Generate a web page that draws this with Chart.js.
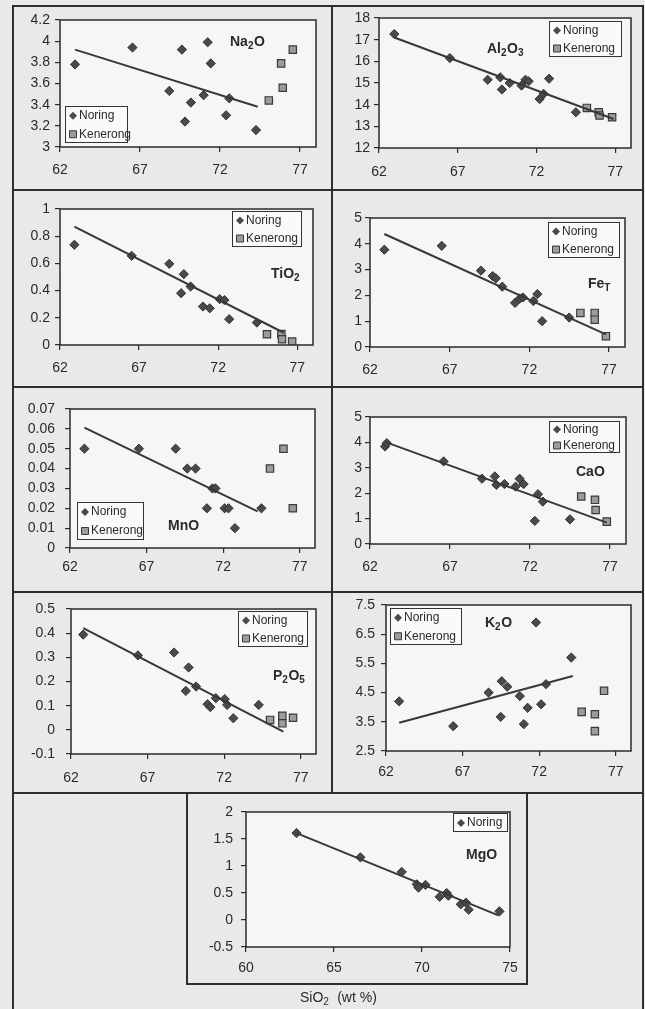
<!DOCTYPE html>
<html>
<head>
<meta charset="utf-8">
<script src="https://cdn.jsdelivr.net/npm/chart.js@4.4.0/dist/chart.umd.min.js"></script>
<style>
  html, body { margin: 0; padding: 0; background: #e9e9e9; }
  body { width: 645px; height: 1009px; position: relative; overflow: hidden; }
  canvas { position: absolute; }
  .rule { position: absolute; background: #2e2e2e; z-index: 5; }
</style>
</head>
<body>
<script>
// ---- SiO2 axis ticks ----
const siTicks = [62, 67, 72, 77];
const siTicksMg = [60, 65, 70, 75];

// ---- Na2O ----
const na2oTicks = [3, 3.2, 3.4, 3.6, 3.8, 4, 4.2];
const na2oNoringSi = [62.94, 66.53, 68.83, 69.62, 69.81, 70.18, 70.98, 71.23, 71.42, 72.38, 72.58, 74.25];
const na2oNoring   = [3.78, 3.94, 3.53, 3.92, 3.24, 3.42, 3.49, 3.99, 3.79, 3.30, 3.46, 3.16];
const na2oKenerongSi = [75.05, 75.82, 75.92, 76.55];
const na2oKenerong   = [3.44, 3.79, 3.56, 3.92];
const na2oTrendSi = [62.94, 74.36];
const na2oTrend   = [3.92, 3.38];

// ---- Al2O3 ----
const al2o3Ticks = [12, 13, 14, 15, 16, 17, 18];
const al2o3NoringSi = [62.97, 66.5, 68.9, 69.7, 69.8, 70.3, 71.05, 71.3, 71.5, 72.2, 72.45, 72.8, 74.5];
const al2o3Noring   = [17.26, 16.15, 15.15, 15.26, 14.7, 15.0, 14.88, 15.15, 15.08, 14.26, 14.5, 15.2, 13.65];
const al2o3KenerongSi = [75.2, 75.95, 76.0, 76.8];
const al2o3Kenerong   = [13.85, 13.65, 13.5, 13.42];
const al2o3TrendSi = [62.97, 76.9];
const al2o3Trend   = [17.1, 13.34];

// ---- TiO2 ----
const tio2Ticks = [0, 0.2, 0.4, 0.6, 0.8, 1];
const tio2NoringSi = [62.91, 66.53, 68.91, 69.66, 69.83, 70.26, 71.04, 71.47, 72.1, 72.4, 72.7, 74.45];
const tio2Noring   = [0.737, 0.656, 0.597, 0.381, 0.521, 0.43, 0.283, 0.27, 0.337, 0.33, 0.19, 0.165];
const tio2KenerongSi = [75.09, 76.0, 76.04, 76.68];
const tio2Kenerong   = [0.079, 0.081, 0.042, 0.025];
const tio2TrendSi = [62.91, 76.15];
const tio2Trend   = [0.87, 0.09];

// ---- FeT ----
const feTicks = [0, 1, 2, 3, 4, 5];
const feNoringSi = [62.9, 66.5, 68.96, 69.7, 69.9, 70.3, 71.1, 71.4, 71.6, 72.25, 72.5, 72.8, 74.5];
const feNoring   = [3.77, 3.92, 2.96, 2.75, 2.66, 2.34, 1.71, 1.88, 1.92, 1.78, 2.05, 1.0, 1.14];
const feKenerongSi = [75.2, 76.1, 76.1, 76.8];
const feKenerong   = [1.32, 1.32, 1.06, 0.42];
const feTrendSi = [62.9, 76.8];
const feTrend   = [4.38, 0.49];

// ---- MnO ----
const mnoTicks = [0, 0.01, 0.02, 0.03, 0.04, 0.05, 0.06, 0.07];
const mnoNoringSi = [62.94, 66.5, 68.9, 69.66, 70.2, 70.94, 71.3, 71.5, 72.1, 72.35, 72.77, 74.5];
const mnoNoring   = [0.05, 0.05, 0.05, 0.04, 0.04, 0.02, 0.03, 0.03, 0.02, 0.02, 0.01, 0.02];
const mnoKenerongSi = [75.06, 75.94, 76.55];
const mnoKenerong   = [0.04, 0.05, 0.02];
const mnoTrendSi = [62.94, 74.25];
const mnoTrend   = [0.0606, 0.0184];

// ---- CaO ----
const caoTicks = [0, 1, 2, 3, 4, 5];
const caoNoringSi = [62.94, 63.05, 66.6, 69.0, 69.8, 69.9, 70.4, 71.1, 71.35, 71.6, 72.3, 72.5, 72.8, 74.5];
const caoNoring   = [3.84, 3.97, 3.25, 2.57, 2.66, 2.33, 2.36, 2.26, 2.57, 2.36, 0.91, 1.96, 1.67, 0.97];
const caoKenerongSi = [75.2, 76.06, 76.1, 76.8];
const caoKenerong   = [1.87, 1.74, 1.34, 0.88];
const caoTrendSi = [62.98, 76.8];
const caoTrend   = [4.01, 0.84];

// ---- P2O5 ----
const p2o5Ticks = [-0.1, 0, 0.1, 0.2, 0.3, 0.4, 0.5];
const p2o5NoringSi = [62.8, 66.37, 68.73, 69.5, 69.68, 70.17, 70.92, 71.1, 71.46, 72.04, 72.2, 72.6, 74.26];
const p2o5Noring   = [0.394, 0.308, 0.32, 0.161, 0.258, 0.179, 0.106, 0.094, 0.131, 0.127, 0.103, 0.048, 0.103];
const p2o5KenerongSi = [75.0, 75.8, 75.8, 76.5];
const p2o5Kenerong   = [0.041, 0.058, 0.027, 0.05];
const p2o5TrendSi = [62.8, 75.87];
const p2o5Trend   = [0.421, -0.007];

// ---- K2O ----
const k2oTicks = [2.5, 3.5, 4.5, 5.5, 6.5, 7.5];
const k2oNoringSi = [62.86, 66.39, 68.7, 69.49, 69.56, 69.92, 70.74, 71.0, 71.25, 71.8, 72.13, 72.45, 74.1];
const k2oNoring   = [4.2, 3.35, 4.5, 3.67, 4.89, 4.7, 4.38, 3.42, 3.98, 6.9, 4.1, 4.79, 5.7];
const k2oKenerongSi = [74.78, 75.64, 75.64, 76.24];
const k2oKenerong   = [3.84, 3.76, 3.18, 4.56];
const k2oTrendSi = [62.86, 74.2];
const k2oTrend   = [3.47, 5.07];

// ---- MgO ----
const mgoTicks = [-0.5, 0, 0.5, 1, 1.5, 2];
const mgoNoringSi = [62.87, 66.5, 68.85, 69.7, 69.8, 70.2, 71.0, 71.4, 71.5, 72.2, 72.5, 72.65, 74.4];
const mgoNoring   = [1.61, 1.16, 0.89, 0.66, 0.6, 0.65, 0.43, 0.5, 0.45, 0.29, 0.32, 0.19, 0.16];
const mgoTrendSi = [62.87, 74.34];
const mgoTrend   = [1.61, 0.087];

// ---- layout & styling ----
const SANS = '"Liberation Sans", Arial, Helvetica, sans-serif';
const INK = '#2a2a2a';
const NORING_FILL = '#4a4a4a';
const KENERONG_FILL = '#9c9c9c';

// plot: chart area rectangle on the page [left, top, right, bottom]
const panels = [
  { title: [['Na', 0], ['2', 1], ['O', 0]], titleAt: [230, 42],
    plot: [60, 20, 316, 147], xMin: 62, xMax: 78, xTicks: siTicks, yMin: 3, yMax: 4.2, yTicks: na2oTicks,
    yGap: 10, xGap: 23, legend: [65, 106, 63, 37],
    n: [na2oNoringSi, na2oNoring], k: [na2oKenerongSi, na2oKenerong], t: [na2oTrendSi, na2oTrend] },
  { title: [['Al', 0], ['2', 1], ['O', 0], ['3', 1]], titleAt: [487, 49],
    plot: [379, 18, 631, 148], xMin: 62, xMax: 78, xTicks: siTicks, yMin: 12, yMax: 18, yTicks: al2o3Ticks,
    yGap: 9, xGap: 24, legend: [549, 21, 73, 36],
    n: [al2o3NoringSi, al2o3Noring], k: [al2o3KenerongSi, al2o3Kenerong], t: [al2o3TrendSi, al2o3Trend] },
  { title: [['TiO', 0], ['2', 1]], titleAt: [271, 274],
    plot: [60, 209, 313, 345], xMin: 62, xMax: 78, xTicks: siTicks, yMin: 0, yMax: 1, yTicks: tio2Ticks,
    yGap: 10, xGap: 23, legend: [232, 211, 70, 36],
    n: [tio2NoringSi, tio2Noring], k: [tio2KenerongSi, tio2Kenerong], t: [tio2TrendSi, tio2Trend] },
  { title: [['Fe', 0], ['T', 1]], titleAt: [588, 284],
    plot: [370, 218, 625, 347], xMin: 62, xMax: 78, xTicks: siTicks, yMin: 0, yMax: 5, yTicks: feTicks,
    yGap: 8, xGap: 23, legend: [548, 222, 72, 36],
    n: [feNoringSi, feNoring], k: [feKenerongSi, feKenerong], t: [feTrendSi, feTrend] },
  { title: [['MnO', 0]], titleAt: [168, 526],
    plot: [70, 409, 315, 548], xMin: 62, xMax: 78, xTicks: siTicks, yMin: 0, yMax: 0.07, yTicks: mnoTicks,
    yGap: 15, xGap: 19, legend: [77, 502, 67, 38],
    n: [mnoNoringSi, mnoNoring], k: [mnoKenerongSi, mnoKenerong], t: [mnoTrendSi, mnoTrend] },
  { title: [['CaO', 0]], titleAt: [576, 472],
    plot: [370, 417, 626, 544], xMin: 62, xMax: 78, xTicks: siTicks, yMin: 0, yMax: 5, yTicks: caoTicks,
    yGap: 8, xGap: 23, legend: [549, 421, 71, 32],
    n: [caoNoringSi, caoNoring], k: [caoKenerongSi, caoKenerong], t: [caoTrendSi, caoTrend] },
  { title: [['P', 0], ['2', 1], ['O', 0], ['5', 1]], titleAt: [273, 676],
    plot: [71, 609, 316, 754], xMin: 62, xMax: 78, xTicks: siTicks, yMin: -0.1, yMax: 0.5, yTicks: p2o5Ticks,
    yGap: 16, xGap: 24, legend: [238, 611, 70, 36],
    n: [p2o5NoringSi, p2o5Noring], k: [p2o5KenerongSi, p2o5Kenerong], t: [p2o5TrendSi, p2o5Trend] },
  { title: [['K', 0], ['2', 1], ['O', 0]], titleAt: [485, 623],
    plot: [386, 605, 631, 751], xMin: 62, xMax: 78, xTicks: siTicks, yMin: 2.5, yMax: 7.5, yTicks: k2oTicks,
    yGap: 11, xGap: 21, legend: [390, 608, 72, 37],
    n: [k2oNoringSi, k2oNoring], k: [k2oKenerongSi, k2oKenerong], t: [k2oTrendSi, k2oTrend] },
  { title: [['MgO', 0]], titleAt: [466, 855],
    plot: [246, 812, 510, 947], xMin: 60, xMax: 75, xTicks: siTicksMg, yMin: -0.5, yMax: 2, yTicks: mgoTicks,
    yGap: 13, xGap: 21, legend: [453, 813, 55, 19],
    axisLabel: [['SiO', 0], ['2', 1], ['  (wt %)', 0]], axisLabelAt: [300, 998],
    n: [mgoNoringSi, mgoNoring], k: null, t: [mgoTrendSi, mgoTrend] }
];

// frame rules around the panels [x, y, w, h]
const rules = [
  [12, 5, 632, 2], [12, 189, 632, 2], [12, 386, 632, 2], [12, 591, 632, 2], [12, 792, 632, 2],
  [12, 5, 2, 1004], [331, 5, 2, 789], [642, 5, 2, 1004],
  [186, 792, 2, 193], [526, 792, 2, 193], [186, 983, 342, 2]
];

const M = { left: 80, right: 30, top: 30, bottom: 70 };
const Y_AXIS_W = 70, X_AXIS_H = 50, TICK = 5, FONT = 14;

function pairs(xs, ys) { return xs.map((x, i) => ({ x, y: ys[i] })); }

// text with subscript segments, left-aligned, vertically centred on y
function drawRich(ctx, parts, x, y, size, weight) {
  let cx = x;
  ctx.textBaseline = 'middle';
  ctx.textAlign = 'left';
  for (const [txt, sub] of parts) {
    const fs = sub ? Math.round(size * 0.68) : size;
    ctx.font = `${weight} ${fs}px ${SANS}`;
    ctx.fillText(txt, cx, sub ? y + size * 0.28 : y);
    cx += ctx.measureText(txt).width + (sub ? 0.5 : 0);
  }
}

function drawMarker(ctx, style, x, y) {
  ctx.beginPath();
  if (style === 'diamond') {
    const r = 4;
    ctx.moveTo(x, y - r); ctx.lineTo(x + r, y); ctx.lineTo(x, y + r); ctx.lineTo(x - r, y); ctx.closePath();
    ctx.fillStyle = NORING_FILL; ctx.fill();
  } else {
    const s = 3.5;
    ctx.rect(x - s, y - s, 2 * s, 2 * s);
    ctx.fillStyle = KENERONG_FILL; ctx.fill();
    ctx.strokeStyle = '#3a3a3a'; ctx.lineWidth = 1; ctx.stroke();
  }
}

const panelDecor = {
  id: 'panelDecor',
  beforeDraw(chart, args, opts) {
    const { ctx, chartArea: a } = chart;
    ctx.save();
    ctx.fillStyle = '#f6f6f6';
    ctx.fillRect(a.left, a.top, a.width, a.height);
    ctx.restore();
  },
  afterDatasetsDraw(chart, args, opts) {
    const { ctx, chartArea: a } = chart;
    const p = opts.panel, ox = opts.origin[0], oy = opts.origin[1];
    ctx.save();
    // plot-area frame
    ctx.strokeStyle = INK; ctx.lineWidth = 1.5;
    ctx.strokeRect(a.left, a.top, a.width, a.height);

    // legend box
    const [lx0, ly0, lw, lh] = p.legend;
    const lx = lx0 - ox, ly = ly0 - oy;
    ctx.fillStyle = '#fafafa';
    ctx.fillRect(lx, ly, lw, lh);
    ctx.strokeStyle = '#333'; ctx.lineWidth = 1;
    ctx.strokeRect(lx + 0.5, ly + 0.5, lw - 1, lh - 1);
    const entries = [['diamond', 'Noring']];
    if (p.k) entries.push(['square', 'Kenerong']);
    const rowH = lh / entries.length;
    entries.forEach(([style, label], i) => {
      const cy = ly + rowH * (i + 0.5) + 0.5;
      drawMarker(ctx, style, lx + 8, cy);
      ctx.fillStyle = INK;
      ctx.font = `12px ${SANS}`;
      ctx.textBaseline = 'middle'; ctx.textAlign = 'left';
      ctx.fillText(label, lx + 14, cy);
    });

    // oxide name
    ctx.fillStyle = INK;
    drawRich(ctx, p.title, p.titleAt[0] - ox, p.titleAt[1] - oy, 14, 'bold');

    // shared SiO2 axis caption
    if (p.axisLabel) {
      drawRich(ctx, p.axisLabel, p.axisLabelAt[0] - ox, p.axisLabelAt[1] - oy, 14, 'normal');
    }
    ctx.restore();
  }
};

document.body.insertAdjacentHTML('beforeend',
  rules.map(r => `<div class="rule" style="left:${r[0]}px;top:${r[1]}px;width:${r[2]}px;height:${r[3]}px"></div>`).join(''));

panels.forEach(p => {
  const [x0, y0, x1, y1] = p.plot;
  const cx = x0 - M.left, cy = y0 - M.top;
  const cw = (x1 - x0) + M.left + M.right, ch = (y1 - y0) + M.top + M.bottom;
  const cv = document.createElement('canvas');
  cv.width = cw; cv.height = ch;
  cv.style.left = cx + 'px'; cv.style.top = cy + 'px';
  cv.style.width = cw + 'px'; cv.style.height = ch + 'px';
  document.body.appendChild(cv);

  const datasets = [
    { label: 'trend', data: pairs(p.t[0], p.t[1]), showLine: true, pointRadius: 0,
      borderColor: '#383838', borderWidth: 2, order: 0 },
    { label: 'Noring', data: pairs(p.n[0], p.n[1]), pointStyle: 'rectRot', pointRadius: 4.6,
      pointBackgroundColor: NORING_FILL, pointBorderColor: '#303030', pointBorderWidth: 1, order: 1 }
  ];
  if (p.k) {
    datasets.push({ label: 'Kenerong', data: pairs(p.k[0], p.k[1]), pointStyle: 'rect', pointRadius: 5.2,
      pointBackgroundColor: KENERONG_FILL, pointBorderColor: '#3a3a3a', pointBorderWidth: 1.2, order: 2 });
  }

  const tickFont = { family: SANS, size: FONT };
  const gridOpts = { drawOnChartArea: false, drawTicks: true, tickLength: TICK, color: INK, lineWidth: 1.2 };

  new Chart(cv, {
    type: 'scatter',
    data: { datasets },
    options: {
      responsive: false, animation: false, devicePixelRatio: 1,
      layout: { padding: { left: M.left - Y_AXIS_W, top: M.top, right: M.right, bottom: M.bottom - X_AXIS_H } },
      plugins: { legend: { display: false }, tooltip: { enabled: false },
                 panelDecor: { panel: p, origin: [cx, cy] } },
      scales: {
        x: {
          type: 'linear', min: p.xMin, max: p.xMax,
          afterBuildTicks: s => { s.ticks = p.xTicks.map(v => ({ value: v })); },
          afterFit: s => { s.height = X_AXIS_H; },
          grid: gridOpts, border: { display: false },
          ticks: { font: tickFont, color: INK, padding: p.xGap - TICK - FONT * 0.6,
                   maxRotation: 0, autoSkip: false, callback: v => String(v) }
        },
        y: {
          type: 'linear', min: p.yMin, max: p.yMax,
          afterBuildTicks: s => { s.ticks = p.yTicks.map(v => ({ value: v })); },
          afterFit: s => { s.width = Y_AXIS_W; },
          grid: gridOpts, border: { display: false },
          ticks: { font: tickFont, color: INK, padding: p.yGap - TICK, autoSkip: false,
                   callback: v => String(v) }
        }
      }
    },
    plugins: [panelDecor]
  });
});
</script>
</body>
</html>
